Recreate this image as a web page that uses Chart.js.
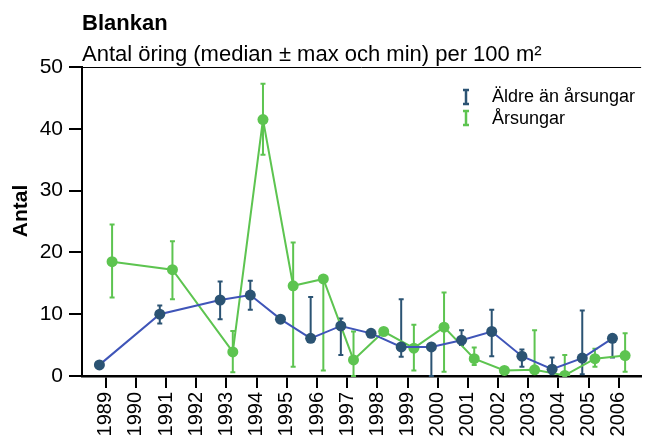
<!DOCTYPE html>
<html>
<head>
<meta charset="utf-8">
<script src="https://cdn.jsdelivr.net/npm/chart.js@4.4.1/dist/chart.umd.min.js"></script>
<style>
  html, body { margin: 0; padding: 0; background: #fff; }
  #wrap { width: 647px; height: 441px; position: relative; }
</style>
</head>
<body>
<div id="wrap"><canvas id="trendChart"></canvas></div>
<script>
// Years on the x axis
const years = [1989, 1990, 1991, 1992, 1993, 1994, 1995, 1996, 1997, 1998, 1999, 2000, 2001, 2002, 2003, 2004, 2005, 2006];
const yTicks = [0, 10, 20, 30, 40, 50];

// Äldre än årsungar: median, min, max (null = no sampling)
const olderMedian = [1.8, null, 10.0, null, 12.3, 13.1, 9.2, 6.1, 8.1, 6.9, 4.7, 4.7, 5.8, 7.2, 3.2, 1.1, 2.9, 6.1];
const olderMin    = [1.8, null, 8.5, null, 9.2, 10.7, 9.2, 5.6, 3.4, 6.9, 3.1, 0.0, 5.0, 3.2, 1.5, 0.3, 0.3, 3.0];
const olderMax    = [1.8, null, 11.4, null, 15.3, 15.4, 9.2, 12.8, 9.3, 6.9, 12.4, 4.7, 7.4, 10.7, 4.3, 3.0, 10.6, 6.1];

// Årsungar: median, min, max
const youngMedian = [18.5, null, 17.2, null, 3.9, 41.5, 14.6, 15.7, 2.6, 7.2, 4.5, 7.9, 2.8, 0.9, 1.0, 0.1, 2.8, 3.3];
const youngMin    = [12.7, null, 12.4, null, 0.6, 35.8, 1.5, 0.9, 0.0, 7.2, 0.9, 0.7, 1.8, 0.9, 1.0, 0.0, 1.5, 0.7];
const youngMax    = [24.5, null, 21.8, null, 7.3, 47.3, 21.6, 15.7, 7.2, 7.2, 8.3, 13.5, 4.6, 0.9, 7.4, 3.4, 4.4, 6.9];

const labels = ['Äldre än årsungar', 'Årsungar'];
const darkColor = '#2b5373';
const blueLine = '#3f55b8';
const greenColor = '#5dc450';
const fontFamily = "'Liberation Sans', Arial, sans-serif";

// build point objects, shifted a bit left/right of the year tick
function buildPoints(med, lo, hi, shift) {
    const pts = [];
    years.forEach(function (yr, i) {
        if (med[i] === null) return;
        pts.push({ x: yr + shift, y: med[i], lo: lo[i], hi: hi[i] });
    });
    return pts;
}

// error bars + titles + legend + top frame line
const extras = {
    id: 'extras',
    beforeDatasetsDraw(chart) {
        const ctx = chart.ctx;
        const xs = chart.scales.x, ys = chart.scales.y;
        ctx.save();
        chart.data.datasets.forEach(function (ds) {
            ctx.strokeStyle = ds.barColor;
            ctx.lineWidth = 2;
            ds.data.forEach(function (p) {
                if (p.lo === p.hi) return;
                const px = xs.getPixelForValue(p.x);
                const top = ys.getPixelForValue(p.hi);
                const bot = ys.getPixelForValue(p.lo);
                ctx.beginPath();
                ctx.moveTo(px, top); ctx.lineTo(px, bot);
                ctx.moveTo(px - 2.5, top); ctx.lineTo(px + 2.5, top);
                ctx.moveTo(px - 2.5, bot); ctx.lineTo(px + 2.5, bot);
                ctx.stroke();
            });
        });
        ctx.restore();
    },
    afterDraw(chart) {
        const ctx = chart.ctx;
        const area = chart.chartArea;
        ctx.save();
        // thin frame line on top of plot
        ctx.strokeStyle = '#000';
        ctx.lineWidth = 1;
        ctx.beginPath();
        ctx.moveTo(area.left, area.top + 0.5);
        ctx.lineTo(area.right, area.top + 0.5);
        ctx.stroke();

        ctx.fillStyle = '#000';
        ctx.textAlign = 'left';
        ctx.textBaseline = 'alphabetic';
        ctx.font = 'bold 22px ' + fontFamily;
        ctx.fillText('Blankan', 82, 30);
        ctx.font = '22px ' + fontFamily;
        ctx.fillText('Antal öring (median ± max och min) per 100 m²', 82, 61);

        // y axis title
        ctx.save();
        ctx.translate(27, 211);
        ctx.rotate(-Math.PI / 2);
        ctx.textAlign = 'center';
        ctx.font = 'bold 21px ' + fontFamily;
        ctx.fillText('Antal', 0, 0);
        ctx.restore();

        // legend
        const rows = [{ c: darkColor, t: labels[0], y: 97, b: 102 }, { c: greenColor, t: labels[1], y: 118, b: 124 }];
        rows.forEach(function (r) {
            ctx.strokeStyle = r.c;
            ctx.lineWidth = 2.5;
            ctx.beginPath();
            ctx.moveTo(466, r.y - 7); ctx.lineTo(466, r.y + 7);
            ctx.moveTo(463, r.y - 7); ctx.lineTo(469, r.y - 7);
            ctx.moveTo(463, r.y + 7); ctx.lineTo(469, r.y + 7);
            ctx.stroke();
            ctx.fillStyle = '#000';
            ctx.font = '18px ' + fontFamily;
            ctx.fillText(r.t, 492, r.b);
        });
        ctx.restore();
    }
};

const ctx = document.getElementById('trendChart').getContext('2d');

new Chart(ctx, {
    type: 'line',
    data: {
        datasets: [
            {
                label: labels[0],
                data: buildPoints(olderMedian, olderMin, olderMax, -0.21),
                borderColor: blueLine,
                borderWidth: 2,
                pointRadius: 5.5,
                pointBackgroundColor: darkColor,
                pointBorderWidth: 0,
                barColor: darkColor,
                fill: false,
                tension: 0,
            },
            {
                label: labels[1],
                data: buildPoints(youngMedian, youngMin, youngMax, 0.21),
                borderColor: greenColor,
                borderWidth: 2,
                pointRadius: 5.5,
                pointBackgroundColor: greenColor,
                pointBorderWidth: 0,
                barColor: greenColor,
                fill: false,
                tension: 0,
            }
        ],
    },
    options: {
        responsive: true,
        maintainAspectRatio: false,
        animation: false,
        layout: { padding: { top: 67, left: 0, right: 0, bottom: 0 } },
        scales: {
            x: {
                type: 'linear',
                min: 1988.213,
                max: 2006.74,
                afterFit: function (scale) { scale.height = 65; },
                afterBuildTicks: function (scale) {
                    scale.ticks = years.map(function (v) { return { value: v }; });
                },
                grid: {
                    drawOnChartArea: false,
                    color: '#000',
                    lineWidth: 2,
                    tickLength: 12,
                },
                border: { color: '#000', width: 2.5 },
                ticks: {
                    autoSkip: false,
                    maxRotation: 90,
                    minRotation: 90,
                    padding: 4,
                    color: '#000',
                    font: { size: 20, family: fontFamily },
                    callback: function (v) { return String(v); },
                },
            },
            y: {
                min: 0,
                max: 50,
                afterFit: function (scale) { scale.width = 82; },
                afterBuildTicks: function (scale) {
                    scale.ticks = yTicks.map(function (v) { return { value: v }; });
                },
                grid: {
                    drawOnChartArea: false,
                    color: '#000',
                    lineWidth: 2,
                    tickLength: 13,
                },
                border: { color: '#000', width: 2 },
                ticks: {
                    padding: 6,
                    color: '#000',
                    font: { size: 21, family: fontFamily },
                },
            },
        },
        plugins: {
            legend: { display: false },
            tooltip: { enabled: false },
        },
    },
    plugins: [extras],
});
</script>
</body>
</html>
